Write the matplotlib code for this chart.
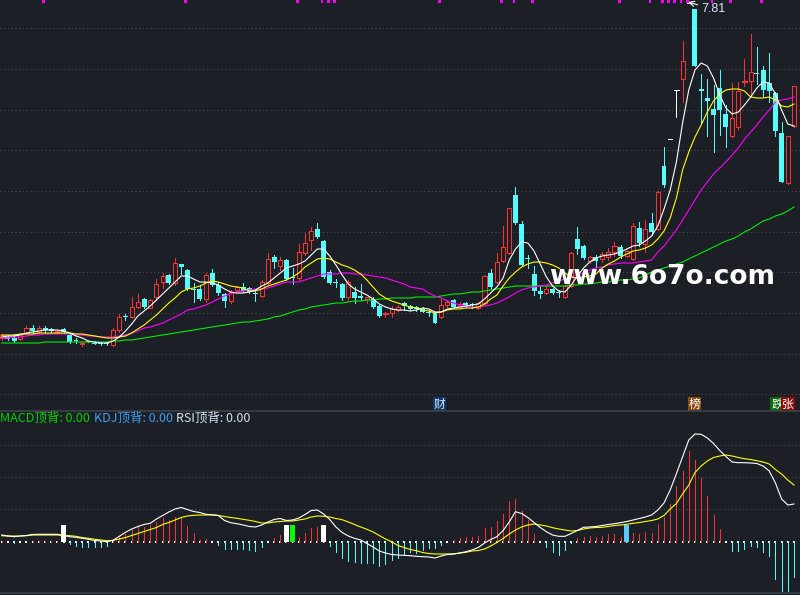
import matplotlib
matplotlib.use("Agg")
import matplotlib.pyplot as plt
import numpy as np

# daily k-line, oldest first (price)
opens = [4.46, 4.47, 4.46, 4.45, 4.51, 4.56, 4.52, 4.56, 4.55, 4.52,
         4.55, 4.49, 4.44, 4.40, 4.43, 4.41, 4.41, 4.41, 4.39, 4.54,
         4.68, 4.67, 4.77, 4.85, 4.76, 4.87, 5.02, 5.09, 5.01, 5.20,
         5.14, 4.95, 4.95, 4.85, 5.11, 4.99, 4.90, 4.83, 4.94, 4.97,
         4.96, 4.91, 4.88, 5.01, 5.27, 5.18, 5.24, 5.07, 5.06, 5.31,
         5.44, 5.55, 5.43, 5.12, 5.02, 5.00, 4.87, 4.92, 4.88, 4.85,
         4.85, 4.78, 4.70, 4.71, 4.74, 4.81, 4.78, 4.77, 4.75, 4.72,
         4.71, 4.67, 4.79, 4.84, 4.77, 4.81, 4.80, 4.76, 4.81, 5.11,
         5.02, 5.23, 5.31, 5.89, 5.60, 5.26, 5.10, 4.93, 4.91, 4.95,
         4.92, 4.87, 4.98, 5.45, 5.38, 5.23, 5.27, 5.25, 5.27, 5.32,
         5.37, 5.28, 5.25, 5.56, 5.40, 5.61, 5.55, 6.18, 6.45, 6.94,
         7.05, 7.81, 7.75, 6.95, 6.86, 6.75, 6.96, 6.70, 6.48, 6.57,
         7.02, 7.03, 7.11, 7.14, 7.01, 6.91, 6.51, 6.01, 6.58]
highs = [4.50, 4.48, 4.50, 4.51, 4.58, 4.59, 4.58, 4.58, 4.56, 4.54,
         4.56, 4.50, 4.46, 4.42, 4.43, 4.43, 4.42, 4.42, 4.56, 4.70,
         4.70, 4.87, 4.90, 4.86, 4.85, 5.05, 5.11, 5.10, 5.26, 5.20,
         5.15, 5.01, 4.99, 5.11, 5.15, 5.02, 4.91, 4.94, 4.98, 5.01,
         4.97, 4.94, 5.04, 5.31, 5.29, 5.27, 5.25, 5.16, 5.40, 5.51,
         5.57, 5.61, 5.44, 5.14, 5.05, 5.01, 5.04, 4.97, 5.00, 4.87,
         4.87, 4.79, 4.72, 4.78, 4.79, 4.82, 4.79, 4.78, 4.77, 4.74,
         4.72, 4.85, 4.84, 4.85, 4.82, 4.82, 4.81, 4.82, 5.09, 5.15,
         5.31, 5.58, 5.76, 5.97, 5.63, 5.29, 5.18, 4.99, 4.98, 4.96,
         4.94, 4.99, 5.32, 5.57, 5.39, 5.28, 5.29, 5.32, 5.36, 5.42,
         5.39, 5.34, 5.61, 5.62, 5.64, 5.71, 5.93, 6.37, 6.45, 6.94,
         7.43, 7.81, 7.75, 7.10, 7.05, 6.99, 7.14, 6.79, 7.01, 7.02,
         7.25, 7.50, 7.37, 7.18, 7.31, 6.92, 6.62, 6.48, 6.98]
lows = [4.44, 4.44, 4.42, 4.44, 4.50, 4.51, 4.51, 4.51, 4.51, 4.51,
        4.51, 4.41, 4.41, 4.38, 4.42, 4.40, 4.39, 4.39, 4.38, 4.52,
        4.64, 4.66, 4.76, 4.76, 4.76, 4.84, 4.96, 5.00, 4.99, 5.10,
        4.94, 4.82, 4.84, 4.82, 4.98, 4.89, 4.77, 4.81, 4.93, 4.92,
        4.91, 4.83, 4.87, 5.00, 5.16, 5.14, 5.04, 5.00, 5.04, 5.29,
        5.34, 5.46, 5.06, 5.00, 4.97, 4.84, 4.84, 4.81, 4.84, 4.81,
        4.76, 4.67, 4.67, 4.67, 4.73, 4.74, 4.74, 4.73, 4.72, 4.68,
        4.61, 4.66, 4.77, 4.76, 4.76, 4.77, 4.76, 4.75, 4.80, 4.95,
        5.01, 5.22, 5.30, 5.60, 5.18, 5.16, 4.89, 4.86, 4.90, 4.90,
        4.87, 4.86, 4.97, 5.30, 5.25, 5.21, 5.17, 5.22, 5.24, 5.28,
        5.26, 5.27, 5.24, 5.38, 5.32, 5.49, 5.54, 5.97, 6.45, 6.67,
        6.82, 7.81, 7.18, 6.61, 6.48, 6.32, 6.49, 6.37, 6.47, 6.55,
        6.98, 6.88, 7.00, 6.88, 6.82, 6.48, 6.02, 6.00, 6.57]
closes = [4.49, 4.45, 4.43, 4.50, 4.56, 4.53, 4.56, 4.54, 4.53, 4.53,
          4.52, 4.42, 4.43, 4.41, 4.42, 4.40, 4.40, 4.40, 4.54, 4.67,
          4.67, 4.77, 4.82, 4.77, 4.84, 5.00, 5.08, 5.01, 5.21, 5.17,
          4.95, 4.94, 4.85, 5.09, 4.99, 4.91, 4.83, 4.92, 4.97, 4.93,
          4.92, 4.90, 5.02, 5.25, 5.22, 5.24, 5.05, 5.06, 5.32, 5.41,
          5.53, 5.47, 5.07, 5.01, 5.01, 4.86, 5.02, 4.86, 4.86, 4.87,
          4.77, 4.68, 4.71, 4.75, 4.77, 4.78, 4.75, 4.75, 4.72, 4.71,
          4.61, 4.79, 4.82, 4.77, 4.80, 4.79, 4.79, 4.81, 5.08, 4.97,
          5.22, 5.37, 5.76, 5.61, 5.19, 5.25, 4.93, 4.90, 4.95, 4.91,
          4.91, 4.98, 5.31, 5.35, 5.26, 5.27, 5.23, 5.30, 5.32, 5.38,
          5.28, 5.33, 5.58, 5.41, 5.55, 5.52, 5.92, 5.99, 6.45, 6.94,
          7.23, 7.81, 7.18, 6.93, 6.83, 6.69, 6.74, 6.57, 6.66, 6.93,
          7.03, 7.12, 7.10, 6.94, 6.93, 6.53, 6.02, 6.48, 6.98]

# moving averages as drawn
ma5 = [4.47, 4.48, 4.48, 4.49, 4.51, 4.52, 4.53, 4.54, 4.54, 4.54,
       4.53, 4.51, 4.48, 4.46, 4.43, 4.42, 4.41, 4.41, 4.43, 4.47,
       4.53, 4.60, 4.68, 4.73, 4.78, 4.84, 4.90, 4.96, 5.02, 5.08,
       5.08, 5.05, 5.02, 5.02, 5.01, 4.99, 4.95, 4.92, 4.91, 4.91,
       4.92, 4.94, 4.98, 5.01, 5.06, 5.11, 5.16, 5.18, 5.20, 5.23,
       5.29, 5.35, 5.35, 5.28, 5.19, 5.09, 5.00, 4.95, 4.92, 4.89,
       4.85, 4.80, 4.77, 4.75, 4.74, 4.74, 4.73, 4.74, 4.76, 4.75,
       4.72, 4.72, 4.75, 4.76, 4.77, 4.78, 4.79, 4.80, 4.85, 4.91,
       4.97, 5.06, 5.24, 5.35, 5.42, 5.41, 5.33, 5.20, 5.07, 4.98,
       4.93, 4.92, 4.99, 5.08, 5.16, 5.22, 5.26, 5.28, 5.29, 5.30,
       5.32, 5.35, 5.38, 5.39, 5.43, 5.48, 5.58, 5.75, 5.94, 6.22,
       6.61, 6.94, 7.14, 7.21, 7.18, 7.06, 6.89, 6.76, 6.70, 6.72,
       6.79, 6.87, 6.96, 7.02, 7.01, 6.90, 6.74, 6.60, 6.58]
ma10 = [4.49, 4.49, 4.49, 4.50, 4.50, 4.50, 4.51, 4.51, 4.51, 4.51,
        4.51, 4.51, 4.50, 4.50, 4.49, 4.48, 4.47, 4.46, 4.46, 4.47,
        4.48, 4.51, 4.55, 4.59, 4.64, 4.69, 4.75, 4.81, 4.86, 4.92,
        4.95, 4.96, 4.98, 5.01, 5.03, 5.02, 5.00, 4.98, 4.97, 4.96,
        4.93, 4.93, 4.95, 4.98, 5.00, 5.02, 5.04, 5.07, 5.11, 5.17,
        5.21, 5.25, 5.26, 5.25, 5.22, 5.19, 5.17, 5.14, 5.10, 5.04,
        4.97, 4.90, 4.86, 4.83, 4.81, 4.79, 4.77, 4.76, 4.74, 4.73,
        4.71, 4.72, 4.74, 4.75, 4.75, 4.76, 4.76, 4.77, 4.80, 4.85,
        4.89, 4.98, 5.06, 5.12, 5.17, 5.20, 5.22, 5.22, 5.21, 5.19,
        5.16, 5.11, 5.07, 5.06, 5.07, 5.08, 5.10, 5.16, 5.20, 5.23,
        5.27, 5.30, 5.33, 5.34, 5.36, 5.39, 5.45, 5.53, 5.66, 5.86,
        6.14, 6.32, 6.47, 6.59, 6.72, 6.83, 6.90, 6.94, 6.95, 6.95,
        6.93, 6.87, 6.86, 6.86, 6.87, 6.84, 6.78, 6.77, 6.80]
ma20 = [4.46, 4.46, 4.47, 4.47, 4.48, 4.49, 4.49, 4.50, 4.50, 4.50,
        4.50, 4.50, 4.49, 4.49, 4.48, 4.48, 4.47, 4.47, 4.47, 4.48,
        4.49, 4.51, 4.53, 4.56, 4.57, 4.59, 4.61, 4.64, 4.67, 4.70,
        4.74, 4.75, 4.77, 4.79, 4.82, 4.85, 4.88, 4.90, 4.92, 4.93,
        4.94, 4.95, 4.95, 4.96, 4.98, 5.00, 5.02, 5.02, 5.02, 5.04,
        5.06, 5.08, 5.10, 5.10, 5.10, 5.11, 5.11, 5.10, 5.10, 5.09,
        5.08, 5.07, 5.06, 5.04, 5.02, 5.00, 4.97, 4.96, 4.95, 4.91,
        4.88, 4.86, 4.83, 4.81, 4.79, 4.78, 4.77, 4.77, 4.78, 4.79,
        4.81, 4.84, 4.87, 4.91, 4.94, 4.96, 4.97, 4.98, 4.99, 5.01,
        5.03, 5.05, 5.07, 5.09, 5.11, 5.14, 5.16, 5.17, 5.19, 5.20,
        5.21, 5.21, 5.21, 5.22, 5.23, 5.24, 5.32, 5.38, 5.46, 5.54,
        5.64, 5.74, 5.84, 5.94, 6.02, 6.10, 6.16, 6.22, 6.29, 6.36,
        6.45, 6.52, 6.59, 6.67, 6.74, 6.82, 6.84, 6.85, 6.87]
ma60 = [4.41, 4.41, 4.41, 4.41, 4.41, 4.41, 4.41, 4.42, 4.42, 4.42,
        4.42, 4.42, 4.42, 4.42, 4.42, 4.42, 4.42, 4.42, 4.43, 4.43,
        4.44, 4.44, 4.45, 4.46, 4.47, 4.48, 4.49, 4.50, 4.51, 4.52,
        4.53, 4.54, 4.55, 4.56, 4.57, 4.58, 4.59, 4.60, 4.61, 4.62,
        4.62, 4.63, 4.64, 4.65, 4.67, 4.68, 4.70, 4.72, 4.74, 4.75,
        4.77, 4.78, 4.79, 4.80, 4.81, 4.81, 4.82, 4.83, 4.83, 4.84,
        4.84, 4.85, 4.85, 4.86, 4.86, 4.86, 4.86, 4.87, 4.87, 4.87,
        4.87, 4.88, 4.89, 4.90, 4.90, 4.91, 4.92, 4.92, 4.93, 4.94,
        4.95, 4.96, 4.97, 4.98, 4.98, 4.98, 4.98, 4.98, 4.98, 4.98,
        4.98, 4.98, 4.99, 4.99, 5.00, 5.00, 5.01, 5.02, 5.02, 5.03,
        5.04, 5.04, 5.05, 5.06, 5.09, 5.12, 5.14, 5.16, 5.18, 5.20,
        5.22, 5.25, 5.28, 5.31, 5.34, 5.37, 5.40, 5.43, 5.45, 5.48,
        5.52, 5.55, 5.59, 5.63, 5.65, 5.68, 5.70, 5.73, 5.77]

# MACD panel
dif = [0.067, 0.057, 0.050, 0.057, 0.062, 0.072, 0.074, 0.074, 0.074, 0.074,
       0.062, 0.050, 0.044, 0.034, 0.024, 0.012, 0.007, 0.000, 0.014, 0.054,
       0.094, 0.127, 0.152, 0.172, 0.184, 0.227, 0.262, 0.297, 0.327, 0.342,
       0.322, 0.302, 0.292, 0.274, 0.270, 0.262, 0.212, 0.190, 0.180, 0.167,
       0.152, 0.147, 0.167, 0.197, 0.222, 0.232, 0.212, 0.217, 0.237, 0.272,
       0.312, 0.317, 0.277, 0.222, 0.147, 0.092, 0.057, 0.034, 0.017, -0.018,
       -0.053, -0.093, -0.113, -0.128, -0.133, -0.136, -0.140, -0.146, -0.150, -0.153,
       -0.163, -0.143, -0.128, -0.123, -0.113, -0.100, -0.083, -0.058, -0.013, 0.022,
       0.050, 0.112, 0.197, 0.300, 0.282, 0.242, 0.192, 0.142, 0.100, 0.067,
       0.054, 0.054, 0.082, 0.112, 0.144, 0.147, 0.152, 0.162, 0.172, 0.180,
       0.190, 0.202, 0.217, 0.232, 0.247, 0.267, 0.317, 0.387, 0.517, 0.680,
       0.847, 1.017, 1.077, 1.074, 1.037, 0.982, 0.912, 0.852, 0.797, 0.790,
       0.790, 0.787, 0.782, 0.757, 0.707, 0.587, 0.427, 0.367, 0.377]
dea = [0.060, 0.057, 0.057, 0.057, 0.060, 0.067, 0.067, 0.067, 0.067, 0.067,
       0.062, 0.060, 0.054, 0.042, 0.034, 0.024, 0.017, 0.010, 0.014, 0.027,
       0.042, 0.062, 0.082, 0.102, 0.122, 0.142, 0.172, 0.192, 0.217, 0.242,
       0.257, 0.264, 0.267, 0.267, 0.267, 0.262, 0.252, 0.242, 0.234, 0.224,
       0.214, 0.202, 0.187, 0.187, 0.197, 0.202, 0.207, 0.207, 0.217, 0.227,
       0.247, 0.257, 0.254, 0.247, 0.232, 0.220, 0.197, 0.172, 0.147, 0.124,
       0.097, 0.062, 0.027, 0.000, -0.038, -0.058, -0.078, -0.090, -0.108, -0.118,
       -0.123, -0.123, -0.123, -0.123, -0.113, -0.106, -0.093, -0.088, -0.073, -0.043,
       -0.008, 0.032, 0.077, 0.117, 0.147, 0.167, 0.177, 0.167, 0.157, 0.140,
       0.127, 0.117, 0.107, 0.112, 0.127, 0.137, 0.142, 0.144, 0.152, 0.162,
       0.167, 0.174, 0.184, 0.192, 0.202, 0.212, 0.227, 0.262, 0.327, 0.382,
       0.477, 0.567, 0.692, 0.757, 0.807, 0.842, 0.857, 0.867, 0.857, 0.842,
       0.830, 0.822, 0.810, 0.797, 0.777, 0.722, 0.677, 0.617, 0.567]
macd_bar = [0.01, 0.00, -0.015, 0.00, 0.00, 0.01, 0.01, 0.01, 0.01, 0.01,
            0.00, -0.023, -0.04, -0.05, -0.05, -0.05, -0.05, -0.04, 0.01, 0.043,
            0.073, 0.117, 0.143, 0.15, 0.167, 0.20, 0.233, 0.217, 0.25, 0.233,
            0.16, 0.09, 0.017, 0.027, 0.00, -0.033, -0.073, -0.073, -0.073, -0.073,
            -0.083, -0.09, -0.05, 0.00, 0.033, 0.067, 0.01, 0.01, 0.05, 0.083,
            0.133, 0.143, 0.046, -0.04, -0.10, -0.167, -0.19, -0.20, -0.217, -0.217,
            -0.217, -0.24, -0.227, -0.183, -0.167, -0.13, -0.10, -0.117, -0.083, -0.067,
            -0.067, -0.033, 0.00, 0.017, 0.033, 0.05, 0.05, 0.06, 0.14, 0.15,
            0.207, 0.277, 0.41, 0.427, 0.31, 0.217, 0.077, 0.00, -0.05, -0.10,
            -0.133, -0.083, -0.017, 0.04, 0.05, 0.057, 0.05, 0.06, 0.073, 0.077,
            0.05, 0.05, 0.083, 0.077, 0.10, 0.09, 0.177, 0.243, 0.377, 0.557,
            0.71, 0.907, 0.817, 0.64, 0.457, 0.267, 0.127, 0.00, -0.09, -0.09,
            -0.073, -0.04, -0.05, -0.10, -0.143, -0.373, -0.49, -0.49, -0.35]

# signal blocks on the zero line of the macd panel
sig_idx = [10, 46, 47, 52, 101]
sig_col = ['#ffffff', '#ffffff', '#00ff00', '#ffffff', '#5ac8fa']
sig_h = 0.167

# small magenta flags along the top edge
top_marks = [6, 29, 47, 51, 52, 53, 70, 80, 82, 85, 99, 104, 106, 107, 108,
             109, 110, 114, 117, 122]

# event tags along the bottom of the price panel
ev_pos = [70.7, 111.9, 125.3, 127.0]
ev_text = ['财', '榜', '跌', '张']
ev_bg = ['#15396b', '#8a4a12', '#0c6a0c', '#8a0c0c']
ev_fg = ['#cfe4ff', '#ffffff', '#ffffff', '#ffffff']

BG = '#1c1f26'
RED = '#ff3232'
CYAN = '#54fcfc'
GRID = '#4a4e58'
LW = 0.55   # about one pixel

plt.rcParams['font.family'] = ['Noto Sans CJK SC', 'DejaVu Sans']

W, H = 800, 595
split = 410.7
fig = plt.figure(figsize=(W / 100, H / 100), dpi=100, facecolor=BG)
ax = fig.add_axes([0, 1 - split / H, 1, split / H])
ax2 = fig.add_axes([0, 2 / H, 1, (593 - split) / H], sharex=ax)
for a in (ax, ax2):
    a.set_facecolor(BG)
    a.set_xticks([])
    a.set_yticks([])
    for s in a.spines.values():
        s.set_visible(False)

x = np.arange(len(closes))
o = np.array(opens)
c = np.array(closes)
hi = np.array(highs)
lo = np.array(lows)
up = c > o
dn = c < o
flat = c == o
b_lo = np.minimum(o, c)
b_hi = np.maximum(o, c)

# price panel
ax.set_xlim(-0.275, 128.97)
ax.set_ylim(3.733, 7.84)
for k in range(10):
    ax.axhline(7.557 - 0.4067 * k, color=GRID, lw=0.75, ls=(0, (1, 2.6)), zorder=0)

ax.vlines(x[up], lo[up], b_lo[up], color=RED, lw=LW, antialiased=False, zorder=2)
ax.vlines(x[up], b_hi[up], hi[up], color=RED, lw=LW, antialiased=False, zorder=2)
ax.bar(x[up], (c - o)[up], bottom=o[up], width=0.66, facecolor=BG,
       edgecolor=RED, lw=LW, antialiased=False, zorder=3)
ax.vlines(x[dn], lo[dn], hi[dn], color=CYAN, lw=LW, antialiased=False, zorder=2)
ax.bar(x[dn], np.maximum((o - c)[dn], 0.008), bottom=c[dn], width=0.8,
       color=CYAN, lw=0, antialiased=False, zorder=3)
ax.vlines(x[flat], lo[flat], hi[flat], color='white', lw=LW, antialiased=False, zorder=2)
ax.hlines(c[flat], x[flat] - 0.35, x[flat] + 0.35, color='white', lw=LW,
          antialiased=False, zorder=3)

ax.plot(x, ma60, color='#00ee00', lw=0.8, zorder=4)
ax.plot(x, ma20, color='#ff00ff', lw=0.8, zorder=4)
ax.plot(x, ma10, color='#ffff00', lw=0.8, zorder=4)
ax.plot(x, ma5, color='white', lw=0.8, zorder=4)

ax.bar(np.array(top_marks) + 0.75, 0.03, bottom=7.81, width=0.45,
       color='#ff00ff', lw=0, zorder=5)

imax = int(np.argmax(highs))
ax.annotate(f'{highs[imax]:.2f}', xy=(imax - 0.1, highs[imax] + 0.01),
            xytext=(imax + 2.1, highs[imax] - 0.065),
            color='#d6e6ff', fontsize=9, family=['Liberation Sans', 'DejaVu Sans'],
            ha='left', va='center', zorder=6,
            arrowprops=dict(arrowstyle='->', color='white', lw=0.8,
                            shrinkA=1, shrinkB=0))

for px, t, bg, fg in zip(ev_pos, ev_text, ev_bg, ev_fg):
    ax.text(px, 0.016, t, transform=ax.get_xaxis_transform(), ha='center',
            va='center', fontsize=8.5, color=fg, zorder=6,
            bbox=dict(boxstyle='square,pad=0.08', fc=bg, ec='none'))

# macd panel
ax2.set_ylim(-0.513, 1.31)
for lv in (0.327, 0.647, 0.967):
    ax2.axhline(lv, color=GRID, lw=0.75, ls=(0, (1, 2.6)), zorder=0)
bar = np.array(macd_bar)
pos = bar > 0
neg = bar < 0
ax2.scatter(x, np.zeros(len(x)), s=0.7, marker='s', c='white', lw=0, zorder=1)
ax2.vlines(x[pos], 0, bar[pos], color=RED, lw=LW, antialiased=False, zorder=2)
ax2.vlines(x[neg], 0, bar[neg], color=CYAN, lw=LW, antialiased=False, zorder=2)
ax2.bar(sig_idx, sig_h, width=0.8, color=sig_col, lw=0, antialiased=False, zorder=3)
ax2.plot(x, dea, color='#ffff00', lw=0.8, zorder=4)
ax2.plot(x, dif, color='white', lw=0.8, zorder=4)

ax2.spines['top'].set_visible(True)
ax2.spines['top'].set_color('#3c4049')
ax2.spines['top'].set_linewidth(1.2)
ax2.spines['bottom'].set_visible(True)
ax2.spines['bottom'].set_color('#3c4049')
ax2.spines['bottom'].set_linewidth(1.2)

ty = 1 - 418 / H
fig.text(0.0, ty, 'MACD顶背: 0.00', color='#00d200', fontsize=9, va='center')
fig.text(94 / W, ty, 'KDJ顶背: 0.00', color='#3c9ef0', fontsize=9, va='center')
fig.text(176 / W, ty, 'RSI顶背: 0.00', color='#d6e2f5', fontsize=9, va='center')

fig.text(662 / W, 1 - 277 / H, 'www.6o7o.com', color='white', fontsize=19,
         fontweight='bold', family='DejaVu Sans', ha='center', va='center', zorder=10)

fig.savefig('out.png', dpi=100, facecolor=BG)
